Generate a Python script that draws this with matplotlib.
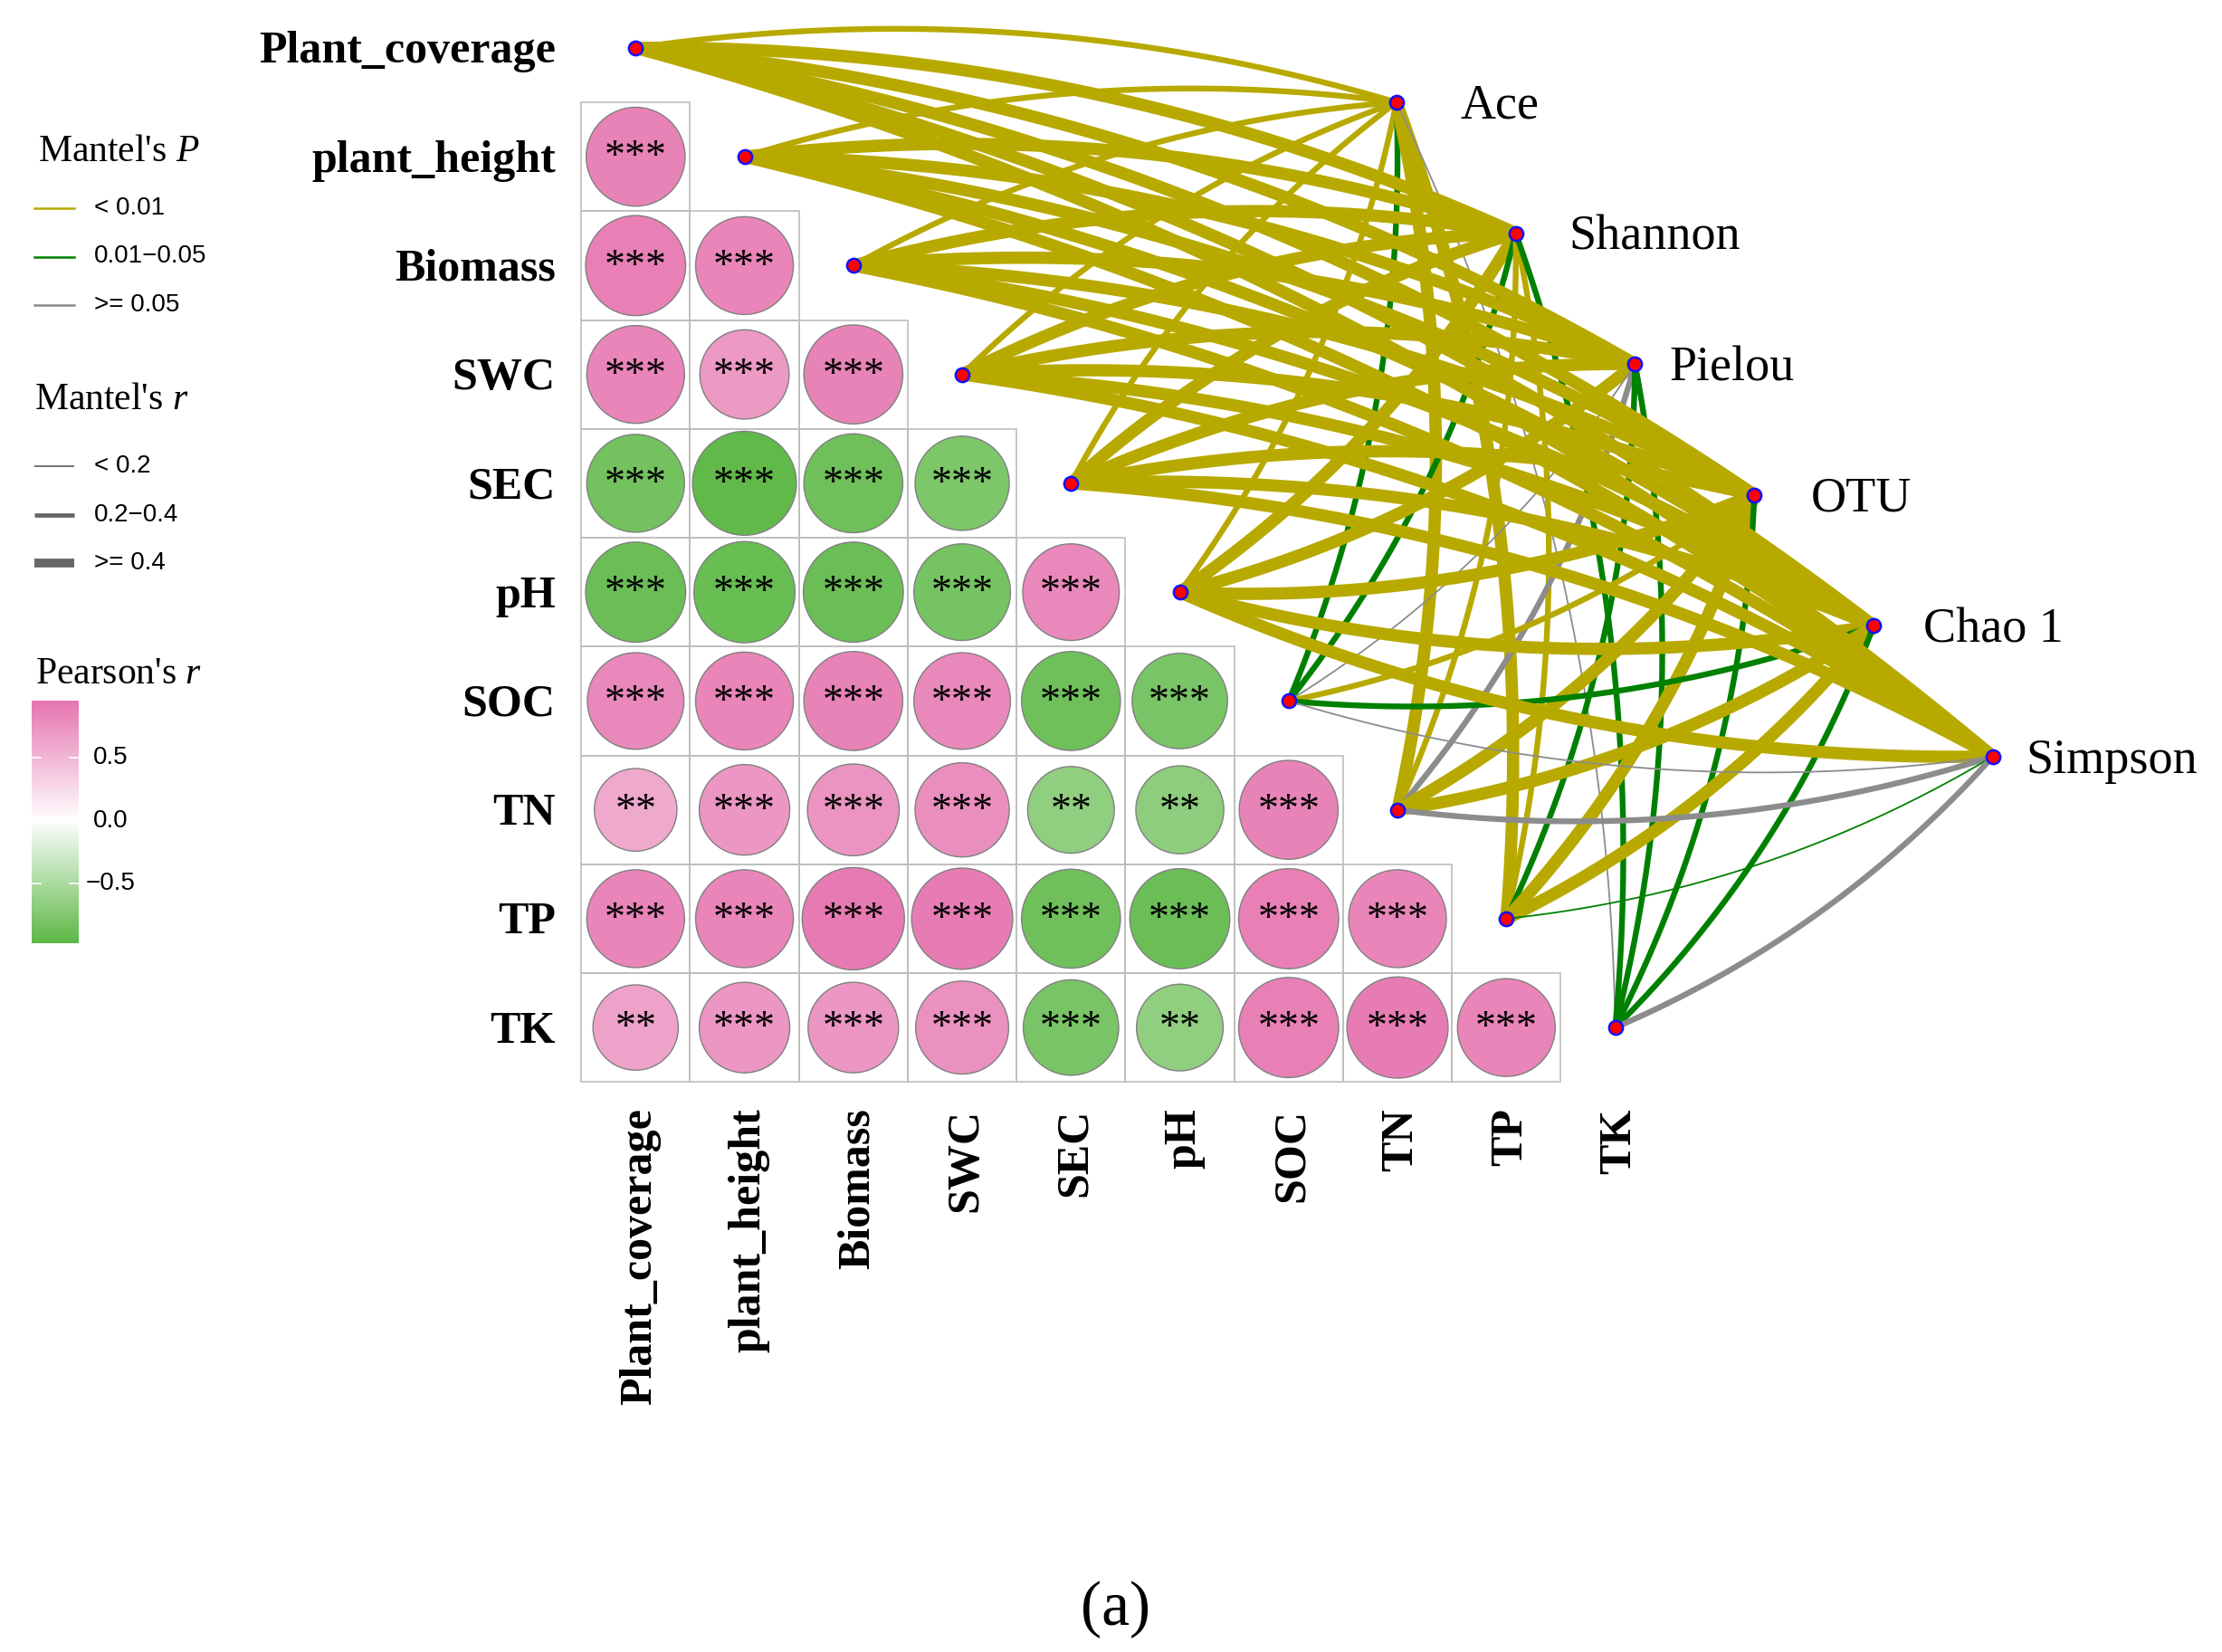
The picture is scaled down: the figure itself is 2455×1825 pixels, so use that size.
import numpy as np
import matplotlib
matplotlib.use("Agg")
import matplotlib.pyplot as plt
from matplotlib.colors import LinearSegmentedColormap, TwoSlopeNorm
from matplotlib.patches import Circle, Rectangle
from matplotlib.lines import Line2D

plt.rcParams['mathtext.fontset'] = 'custom'
plt.rcParams['mathtext.rm'] = 'Liberation Serif'
plt.rcParams['mathtext.it'] = 'Liberation Serif:italic'
plt.rcParams['mathtext.bf'] = 'Liberation Serif:bold'

# ---------------- data ----------------
env_vars = ["Plant_coverage", "plant_height", "Biomass", "SWC", "SEC",
            "pH", "SOC", "TN", "TP", "TK"]
spec_vars = ["Ace", "Shannon", "Pielou", "OTU", "Chao 1", "Simpson"]

# Pearson's r, lower triangle (row i = env_vars[i], columns 0..i-1)
pearson_r = [
    [0.86],
    [0.88, 0.84],
    [0.84, 0.70, 0.86],
    [-0.84, -0.95, -0.86, -0.78],
    [-0.88, -0.90, -0.88, -0.82, 0.82],
    [0.82, 0.84, 0.86, 0.82, -0.86, -0.80],
    [0.60, 0.72, 0.74, 0.78, -0.66, -0.68, 0.86],
    [0.84, 0.84, 0.92, 0.90, -0.86, -0.88, 0.88, 0.84],
    [0.64, 0.72, 0.72, 0.76, -0.80, -0.66, 0.88, 0.90, 0.84],
]
pearson_sig = [
    ["***"],
    ["***", "***"],
    ["***", "***", "***"],
    ["***", "***", "***", "***"],
    ["***", "***", "***", "***", "***"],
    ["***", "***", "***", "***", "***", "***"],
    ["**", "***", "***", "***", "**", "**", "***"],
    ["***", "***", "***", "***", "***", "***", "***", "***"],
    ["**", "***", "***", "***", "***", "**", "***", "***", "***"],
]
pearson_limits = [-0.97, 0.95]

# Mantel test: rows = spec_vars, columns = env_vars
mantel_r = [
    [0.35, 0.36, 0.35, 0.33, 0.34, 0.35, 0.28, 0.45, 0.42, 0.12],
    [0.55, 0.56, 0.55, 0.52, 0.50, 0.48, 0.26, 0.33, 0.27, 0.30],
    [0.56, 0.58, 0.56, 0.53, 0.51, 0.49, 0.15, 0.24, 0.27, 0.29],
    [0.57, 0.58, 0.57, 0.54, 0.52, 0.50, 0.35, 0.46, 0.44, 0.28],
    [0.57, 0.58, 0.56, 0.53, 0.52, 0.50, 0.31, 0.45, 0.44, 0.27],
    [0.55, 0.56, 0.55, 0.52, 0.51, 0.49, 0.14, 0.25, 0.17, 0.30],
]
mantel_p = [
    [0.001, 0.001, 0.001, 0.001, 0.001, 0.001, 0.020, 0.001, 0.001, 0.210],
    [0.001, 0.001, 0.001, 0.001, 0.001, 0.001, 0.030, 0.004, 0.006, 0.020],
    [0.001, 0.001, 0.001, 0.001, 0.001, 0.001, 0.120, 0.080, 0.030, 0.020],
    [0.001, 0.001, 0.001, 0.001, 0.001, 0.001, 0.003, 0.001, 0.001, 0.030],
    [0.001, 0.001, 0.001, 0.001, 0.001, 0.001, 0.020, 0.001, 0.001, 0.030],
    [0.001, 0.001, 0.001, 0.001, 0.001, 0.001, 0.150, 0.090, 0.040, 0.070],
]

p_labels = ["< 0.01", "0.01\u22120.05", ">= 0.05"]
r_labels = ["< 0.2", "0.2\u22120.4", ">= 0.4"]
cbar_ticks = [0.5, 0.0, -0.5]

# ---------------- styles ----------------
p_colors = ["#B8A900", "#008000", "#8C8C8C"]
r_widths = [1.3, 4.6, 9.8]          # points
legend_r_widths = [1.3, 3.4, 7.0]
legend_r_color = "#666666"

def p_cat(p):
    return 0 if p < 0.01 else (1 if p < 0.05 else 2)

def r_cat(r):
    return 0 if r < 0.2 else (1 if r < 0.4 else 2)

cmap = LinearSegmentedColormap.from_list(
    "pg", [(0.0, "#5DB846"), (0.5, "#FFFFFF"), (1.0, "#E676B0")])
norm = TwoSlopeNorm(vmin=pearson_limits[0], vcenter=0.0, vmax=pearson_limits[1])

serif = "Liberation Serif"
sans = "Liberation Sans"

W, H = 2455, 1825
fig = plt.figure(figsize=(W / 100, H / 100), dpi=100)
ax = fig.add_axes([0, 0, 1, 1])
unit = 120.25      # pixels per grid cell
x0_px, y0_px = 702.3, 52.9
ax.set_xlim(-x0_px / unit, (W - x0_px) / unit)
ax.set_ylim((H - y0_px) / unit, -y0_px / unit)
ax.axis("off")

# ---------------- correlation triangle ----------------
for i in range(1, len(env_vars)):
    for j in range(i):
        r = pearson_r[i - 1][j]
        ax.add_patch(Rectangle((j - 0.5, i - 0.5), 1, 1, fill=False,
                               ec="#BEBEBE", lw=1.2, zorder=1))
        rad = 0.49 * np.sqrt(abs(r))
        ax.add_patch(Circle((j, i), rad, fc=cmap(norm(r)), ec="#808080",
                            lw=1.0, zorder=2))
        ax.text(j, i + 0.11, pearson_sig[i - 1][j], ha="center",
                va="baseline", fontsize=33, family=serif, zorder=3)

# row labels
for i, name in enumerate(env_vars):
    ax.text(-0.736, i + 0.137, name, ha="right", va="baseline",
            fontsize=36, family=serif, fontweight="bold")
# column labels
for j, name in enumerate(env_vars):
    ax.text(j + 0.137, 9.743, name, rotation=90, rotation_mode="anchor",
            ha="right", va="baseline", fontsize=36, family=serif,
            fontweight="bold")

# ---------------- Mantel links ----------------
env_x = np.arange(len(env_vars), dtype=float)
env_y = env_x.copy()
spec_x = np.linspace(6.99, 12.47, len(spec_vars))
spec_y = np.linspace(0.50, 6.51, len(spec_vars))
spec_label_dx = [0.59, 0.49, 0.32, 0.52, 0.46, 0.30]


def bezier(p0, p2, side, k=0.11, n=80):
    p0 = np.asarray(p0, float)
    p2 = np.asarray(p2, float)
    d = p2 - p0
    normal = np.array([d[1], -d[0]])
    c = (p0 + p2) / 2 + side * k * normal
    t = np.linspace(0, 1, n)[:, None]
    return (1 - t) ** 2 * p0 + 2 * (1 - t) * t * c + t ** 2 * p2


for s in range(len(spec_vars)):
    for e in range(len(env_vars)):
        side = 1 if e < 5 else -1
        pts = bezier((env_x[e], env_y[e]), (spec_x[s], spec_y[s]), side)
        ax.plot(pts[:, 0], pts[:, 1],
                color=p_colors[p_cat(mantel_p[s][e])],
                lw=r_widths[r_cat(mantel_r[s][e])],
                solid_capstyle="butt", zorder=4)

ax.plot(env_x, env_y, "o", ms=11, mfc="#FF0000", mec="#1010FF", mew=1.8,
        zorder=6, ls="none")
ax.plot(spec_x, spec_y, "o", ms=11, mfc="#FF0000", mec="#1010FF", mew=1.8,
        zorder=6, ls="none")
for s, name in enumerate(spec_vars):
    ax.text(spec_x[s] + spec_label_dx[s], spec_y[s] + 0.149, name,
            ha="left", va="baseline", fontsize=39, family=serif)

ax.text(4.41, 14.35, "(a)", ha="center", va="center", fontsize=50,
        family=serif)

# ---------------- legends ----------------
def fx(px):
    return px / W


def fy(py):
    return 1 - py / H


fig.text(fx(42), fy(168), "Mantel's $P$", family=serif, fontsize=30,
         ha="left", va="center")
for k, (lab, col) in enumerate(zip(p_labels, p_colors)):
    y = 230 + k * 53.5
    fig.add_artist(Line2D([fx(38), fx(82)], [fy(y), fy(y)], color=col,
                          lw=1.8, transform=fig.transFigure))
    fig.text(fx(104), fy(y), lab, family=sans, fontsize=20, ha="left",
             va="center")

fig.text(fx(38), fy(442), "Mantel's $r$", family=serif, fontsize=30,
         ha="left", va="center")
for k, (lab, lw) in enumerate(zip(r_labels, legend_r_widths)):
    y = 515 + k * 53.5
    fig.add_artist(Line2D([fx(38), fx(82)], [fy(y), fy(y)],
                          color=legend_r_color, lw=lw,
                          solid_capstyle="butt", transform=fig.transFigure))
    fig.text(fx(104), fy(y), lab, family=sans, fontsize=20, ha="left",
             va="center")

fig.text(fx(39), fy(745), "Pearson's $r$", family=serif, fontsize=30,
         ha="left", va="center")
cax = fig.add_axes([fx(35), fy(1042), 52 / W, 268 / H])
grad = np.linspace(pearson_limits[0], pearson_limits[1], 300)[:, None]
cax.imshow(grad, cmap=cmap, norm=norm, aspect="auto", origin="lower",
           extent=[0, 1, pearson_limits[0], pearson_limits[1]])
cax.set_xlim(0, 1)
cax.set_ylim(pearson_limits[0], pearson_limits[1])
cax.axis("off")
for t in cbar_ticks:
    cax.plot([0, 0.2], [t, t], color="white", lw=1.2)
    cax.plot([0.8, 1.0], [t, t], color="white", lw=1.2)
    lab = f"{t:.1f}".replace("-", "\u2212")
    cax.text(1.673, t, lab, ha="center", va="center", family=sans,
             fontsize=20, clip_on=False)

fig.savefig("out.png", dpi=100, facecolor="white")
